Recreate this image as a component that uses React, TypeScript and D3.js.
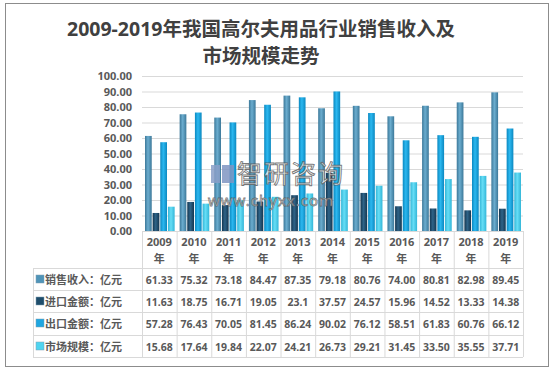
import * as d3 from 'd3';
import React from 'react';

const years = ['2009', '2010', '2011', '2012', '2013', '2014', '2015', '2016', '2017', '2018', '2019'];
const seriesNames = ['销售收入', '进口金额', '出口金额', '市场规模'];
const sales = [61.33, 75.32, 73.18, 84.47, 87.35, 79.18, 80.76, 74.0, 80.81, 82.98, 89.45];
const imports = [11.63, 18.75, 16.71, 19.05, 23.1, 37.57, 24.57, 15.96, 14.52, 13.33, 14.38];
const exports = [57.28, 76.43, 70.05, 81.45, 86.24, 90.02, 76.12, 58.51, 61.83, 60.76, 66.12];
const market = [15.68, 17.64, 19.84, 22.07, 24.21, 26.73, 29.21, 31.45, 33.5, 35.55, 37.71];
const tableLabels = ['23.1'];
const yTicks = [0, 10, 20, 30, 40, 50, 60, 70, 80, 90, 100];

const allSeries = [sales, imports, exports, market];
// gradient edge / centre and flat legend colour per series
const grads = [
  ['#3c7899', '#6badcf'],
  ['#143650', '#2f6488'],
  ['#0b88c0', '#2bb8f0'],
  ['#33b6d8', '#66def6'],
];
const legendColors = ['#4f94b8', '#1e4d6b', '#1ea6e0', '#4fd4f0'];

const fmt = (v: number, si: number, i: number) => {
  if (si === 1 && i === 4) return tableLabels[0];
  return v.toFixed(2);
};

const App = () => {
  const W = 555, H = 372;
  const x0 = 142, x1 = 523, yTop = 76, yBot = 231;
  const x = d3.scaleBand().domain(years).range([x0, x1]).padding(0);
  const inner = d3.scaleBand().domain(seriesNames)
    .range([3, x.bandwidth() - 2]).paddingInner(0.12);
  const y = d3.scaleLinear().domain([0, 100]).range([yBot, yTop]);

  const tableLeft = 33;
  const rowLines = [268, 290, 312, 335, 357];
  const textColor = '#595959';
  const font = '"Noto Sans", "Noto Sans CJK SC", sans-serif';

  return (
    <svg width={W} height={H} style={{ position: 'absolute', left: 0, top: 0, background: '#fff' }}
      fontFamily={font}>
      <defs>
        {grads.map((g, i) => (
          <linearGradient key={i} id={'g' + i} x1="0" x2="1" y1="0" y2="0">
            <stop offset="0" stopColor={g[0]} />
            <stop offset="0.45" stopColor={g[1]} />
            <stop offset="1" stopColor={g[0]} />
          </linearGradient>
        ))}
      </defs>
      <rect x={5.5} y={3.5} width={543} height={363} fill="#fff" stroke="#8c8c8c" />

      <text x={261} y={36} textAnchor="middle" fontSize={19.5} fontWeight="bold" fill="#404040">
        2009-2019年我国高尔夫用品行业销售收入及
      </text>
      <text x={261} y={63} textAnchor="middle" fontSize={19.5} fontWeight="bold" fill="#404040">
        市场规模走势
      </text>

      {/* gridlines and y labels */}
      {yTicks.map(t => (
        <g key={t}>
          {t > 0 && <line x1={x0} x2={x1} y1={y(t) + 0.5} y2={y(t) + 0.5} stroke="#d9d9d9" />}
          <text x={132} y={y(t) + 4} textAnchor="end" fontSize={11} fontWeight="bold" fill={textColor}>
            {t.toFixed(2)}
          </text>
        </g>
      ))}

      {/* bars */}
      {years.map((yr, i) => (
        <g key={yr} transform={`translate(${x(yr)},0)`}>
          {allSeries.map((s, si) => (
            <rect key={si} x={inner(seriesNames[si])} y={y(s[i])} width={inner.bandwidth()}
              height={yBot - y(s[i])} fill={`url(#g${si})`} />
          ))}
        </g>
      ))}

      {/* watermark */}
      <g>
        <rect x={211} y={165} width={9} height={18} fill="#8a9fc8" opacity={0.85} />
        <rect x={222} y={165} width={12} height={18} fill="#7f95c2" opacity={0.85} />
        <text x={237} y={183} fontSize={25} fill="#ffffff" fillOpacity={0.8} stroke="#555" strokeOpacity={0.8}
          strokeWidth={0.9} letterSpacing={2}>
          智研咨询
        </text>
        <text x={208} y={206} fontSize={15} fill="#ffffff" fillOpacity={0.8} stroke="#555" strokeOpacity={0.8}
          strokeWidth={0.8} letterSpacing={1}>
          www.chyxx.com
        </text>
      </g>

      {/* table */}
      <line x1={x0} x2={x1} y1={yBot + 0.5} y2={yBot + 0.5} stroke="#d9d9d9" />
      {rowLines.map(r => (
        <line key={r} x1={tableLeft} x2={x1} y1={r + 0.5} y2={r + 0.5} stroke="#d9d9d9" />
      ))}
      <line x1={tableLeft + 0.5} x2={tableLeft + 0.5} y1={rowLines[0]} y2={rowLines[4]} stroke="#d9d9d9" />
      {[...years.map(v => x(v) as number), x1].map((lx, k) => (
        <line key={k} x1={lx + 0.5} x2={lx + 0.5} y1={yBot} y2={rowLines[4]} stroke="#d9d9d9" />
      ))}
      {years.map(yr => (
        <g key={yr}>
          <text x={(x(yr) as number) + x.bandwidth() / 2} y={246} textAnchor="middle" fontSize={11}
            fontWeight="bold" fill={textColor}>{yr}</text>
          <text x={(x(yr) as number) + x.bandwidth() / 2} y={263} textAnchor="middle" fontSize={11}
            fontWeight="bold" fill={textColor}>年</text>
        </g>
      ))}
      {allSeries.map((s, si) => (
        <g key={si}>
          <rect x={36} y={rowLines[si] + 7} width={8} height={8} fill={legendColors[si]} stroke="#7f9fb3" strokeWidth={0.5} />
          <text x={45} y={rowLines[si] + 15.5} fontSize={11} fontWeight="bold" fill={textColor}>
            {seriesNames[si]}：亿元
          </text>
          {s.map((v, i) => (
            <text key={i} x={(x(years[i]) as number) + x.bandwidth() / 2} y={rowLines[si] + 15.5}
              textAnchor="middle" fontSize={10.5} fontWeight="bold" fill={textColor}>
              {fmt(v, si, i)}
            </text>
          ))}
        </g>
      ))}
    </svg>
  );
};

export default App;
